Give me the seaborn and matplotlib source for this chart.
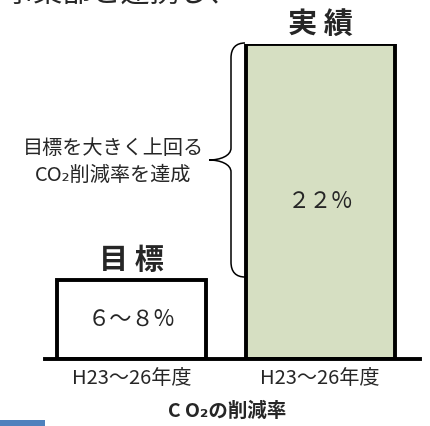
import matplotlib
matplotlib.use("Agg")
import numpy as np
import pandas as pd
import seaborn as sns
import matplotlib.pyplot as plt
from matplotlib.path import Path
from matplotlib.patches import PathPatch, Rectangle
from matplotlib.transforms import Affine2D

#data
kinds = ["目 標", "実 績"]
periods = ["H23～26年度", "H23～26年度"]
heights = [5.5, 22]   # schematic bar heights
value_labels = ["６～８%", "２２%"]
bar_colors = ["white", "#d8e4bd"]

sns.set_style("white")
plt.rcParams['font.family'] = ['Noto Sans CJK JP', 'DejaVu Sans']

df = pd.DataFrame({"kind": kinds, "height": heights})

W, H = 430, 426
fig = plt.figure(figsize=(W/100, H/100), dpi=100)
ax = fig.add_axes([45/W, (H-358.5)/H, 375/W, 315/H])

sns.barplot(data=df, x="kind", y="height", hue="kind", palette=bar_colors,
            edgecolor="black", linewidth=2.8, width=0.79, legend=False, ax=ax)
ax.set_xlim(-0.459, 1.53)
ax.set_ylim(0, 22)

for s in ["top", "left", "right"]:
    ax.spines[s].set_visible(False)
ax.spines["bottom"].set_linewidth(2.8)
ax.spines["bottom"].set_color("black")
ax.set_yticks([])
ax.set_ylabel("")
ax.set_xticks(range(len(periods)))
ax.set_xticklabels(periods, fontsize=14.5)
ax.tick_params(axis="x", length=0, pad=7)
ax.set_xlabel("C O₂の削減率", fontsize=14, fontweight="bold")
ax.xaxis.set_label_coords(0.485, -0.138)

# labels on and above bars
for i, h in enumerate(heights):
    ax.text(i, h/2, value_labels[i], ha="center", va="center", fontsize=16)
    ax.annotate(kinds[i], (i, h), xytext=(0, 14), textcoords="offset points",
                ha="center", va="center", fontsize=21, fontweight="bold")

# curly brace, pixel coords
tr = Affine2D().scale(1/W, -1/H).translate(0, 1) + fig.transFigure
verts = [(245, 43), (236, 43), (231, 48), (231, 58),
         (231, 148),
         (231, 156), (220, 160), (209, 160),
         (220, 160), (231, 164), (231, 172),
         (231, 262),
         (231, 272), (236, 277), (245, 277)]
codes = [Path.MOVETO, Path.CURVE4, Path.CURVE4, Path.CURVE4,
         Path.LINETO,
         Path.CURVE4, Path.CURVE4, Path.CURVE4,
         Path.CURVE4, Path.CURVE4, Path.CURVE4,
         Path.LINETO,
         Path.CURVE4, Path.CURVE4, Path.CURVE4]
fig.add_artist(PathPatch(Path(verts, codes), transform=tr, fill=False,
                         lw=1.1, color="black"))

fig.text(113/W, 1-149/H, "目標を大きく上回る", ha="center", va="center", fontsize=14.5)
fig.text(113/W, 1-175/H, "CO₂削減率を達成", ha="center", va="center", fontsize=14.5)

# clipped heading at top
fig.text(5/W, 1+6/H, "事業部と連携し、", ha="left", va="center", fontsize=21)

# blue block bottom-left
fig.add_artist(Rectangle((0, 0), 45/W, 6/H, transform=fig.transFigure,
                         color="#4f81bd", lw=0))

fig.savefig("out.png", dpi=100)
